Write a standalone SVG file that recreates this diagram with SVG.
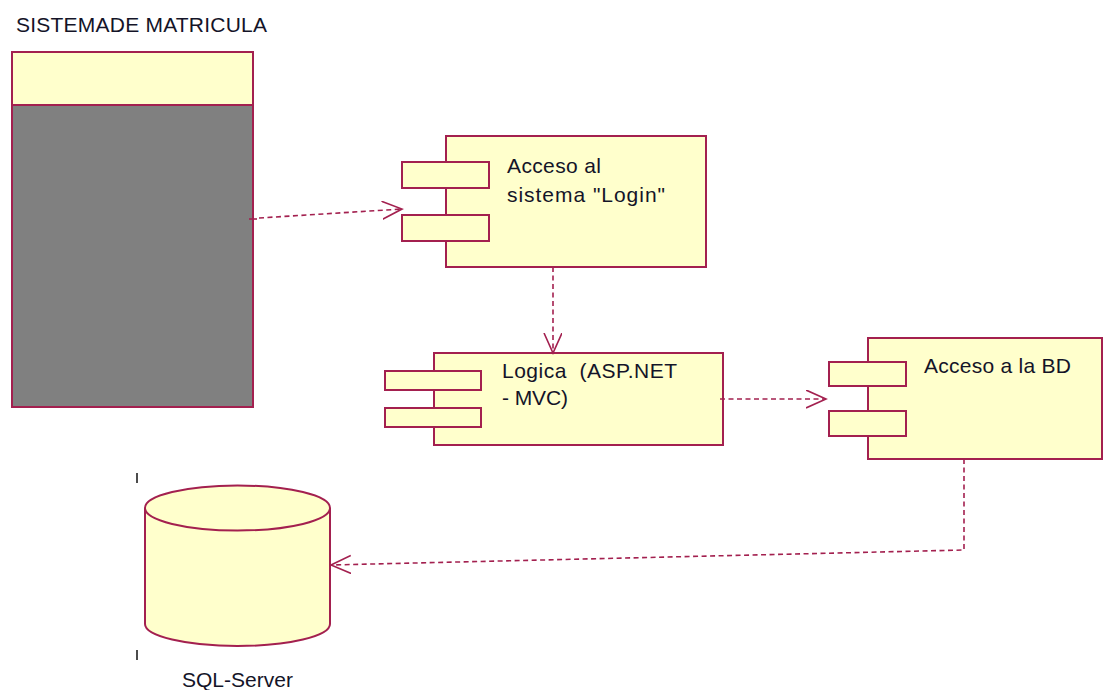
<svg xmlns="http://www.w3.org/2000/svg" width="1103" height="690" viewBox="0 0 1103 690">
<style>
.s{fill:#ffffcc;stroke:#a3204f;stroke-width:2}
.t{font-family:"Liberation Sans",Arial,sans-serif;font-size:21px;fill:#141428}
.c{fill:none;stroke:#a3204f;stroke-width:1.6;stroke-dasharray:5 3.5}
</style>
<defs>
<marker id="a" markerUnits="userSpaceOnUse" markerWidth="24" markerHeight="22" refX="20" refY="9" orient="auto">
<path d="M0,0 L20,9 L0,18" fill="none" stroke="#a3204f" stroke-width="1.6"/>
</marker>
</defs>
<rect width="1103" height="690" fill="#fff"/>
<text class="t" x="16" y="32" textLength="251">SISTEMADE MATRICULA</text>
<g id="sistema">
<rect x="12" y="105" width="241" height="302" fill="#808080" stroke="#a3204f" stroke-width="2"/>
<rect class="s" x="12" y="52" width="241" height="53"/>
</g>
<g id="login">
<rect class="s" x="446" y="136" width="260" height="131"/>
<rect class="s" x="402" y="162" width="87" height="26"/>
<rect class="s" x="402" y="215" width="87" height="26"/>
<text class="t" x="507" y="173" textLength="94">Acceso al</text>
<text class="t" x="507" y="202" textLength="158">sistema "Login"</text>
</g>
<g id="logica">
<rect class="s" x="434" y="353" width="289" height="92"/>
<rect class="s" x="385" y="371" width="96" height="19"/>
<rect class="s" x="385" y="408" width="96" height="19"/>
<text class="t" x="502" y="378" textLength="175" xml:space="preserve">Logica  (ASP.NET</text>
<text class="t" x="502" y="405" textLength="66">- MVC)</text>
</g>
<g id="accesobd">
<rect class="s" x="868" y="338" width="234" height="121"/>
<rect class="s" x="829" y="362" width="77" height="24"/>
<rect class="s" x="829" y="411" width="77" height="25"/>
<text class="t" x="924" y="373" textLength="147">Acceso a la BD</text>
</g>
<g id="sqlserver">
<path class="s" d="M145,508 L145,624 A92.5,22 0 0 0 330,624 L330,508"/>
<ellipse class="s" cx="237.5" cy="508" rx="92.5" ry="22.5"/>
<line x1="137" y1="473" x2="137" y2="483" stroke="#111" stroke-width="1.5"/>
<line x1="137" y1="650" x2="137" y2="660" stroke="#111" stroke-width="1.5"/>
<text class="t" x="182" y="687" textLength="111">SQL-Server</text>
</g>
<g id="connectors">
<line x1="249" y1="219" x2="257" y2="219" stroke="#a3204f" stroke-width="1.6"/>
<path class="c" d="M259,218 L402,209" marker-end="url(#a)"/>
<path class="c" d="M553,267 L553,353" marker-end="url(#a)"/>
<path class="c" d="M720,399 L826,399" marker-end="url(#a)"/>
<path class="c" d="M964,459 L964,550 L331,565" marker-end="url(#a)"/>
</g>
</svg>
